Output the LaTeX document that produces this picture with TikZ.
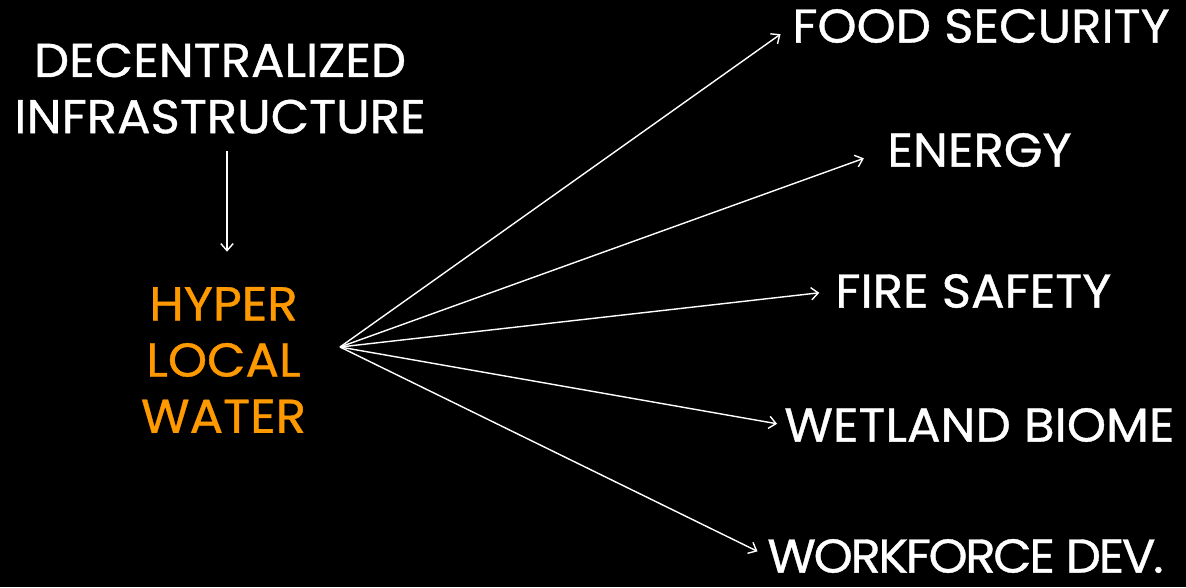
\documentclass[tikz,border=0pt]{standalone}
\usepackage{fontspec}
\setmainfont{Poppins}[FakeStretch=1.05, FakeBold=0.8]
\usepackage{tikz}
\usetikzlibrary{arrows.meta, calc}
\usepackage{xcolor}
\definecolor{waterorange}{RGB}{255,153,0}

\begin{document}
\begin{tikzpicture}[
  heading/.style={inner sep=0pt, text=white, align=center, font=\fontsize{27}{32}\selectfont},
  core/.style={inner sep=0pt, text=waterorange, align=center, font=\fontsize{27}{32}\selectfont},
  benefit/.style={inner sep=0pt, anchor=west, text=white, font=\fontsize{27}{32}\selectfont},
  arrow/.style={-{Straight Barb[length=4pt, width=7pt]}, line width=0.8pt, white},
]
\fill[black] (0,0) rectangle (23.72,-11.74);
\useasboundingbox (0,0) rectangle (23.72,-11.74);

\node[heading] (infra) at (4.4,-1.77) {DECENTRALIZED\\INFRASTRUCTURE};
\node[core] (water) at (4.47,-7.2) {HYPER\\LOCAL\\WATER};
\coordinate (hub) at (6.8,-6.94);

\node[benefit] (food) at (15.84,-0.52) {FOOD SECURITY};
\node[benefit] (energy) at (17.74,-3.0) {ENERGY};
\node[benefit] (fire) at (16.7,-5.82) {FIRE SAFETY};
\node[benefit] (wetland) at (15.68,-8.5) {WETLAND BIOME};
\node[benefit, font=\fontsize{27}{32}\selectfont\addfontfeature{LetterSpace=-5}] (work) at (15.34,-11.12) {WORKFORCE DEV.};

\draw[arrow, shorten <=10pt, shorten >=20pt] ([xshift=0.14cm]infra.south) -- ([xshift=0.14cm]infra.south |- water.north);

\draw[arrow, shorten >=8pt] (hub) -- (food.west);
\draw[arrow, shorten >=14pt] (hub) -- (energy.west);
\draw[arrow, shorten >=9pt] (hub) -- (fire.west);
\draw[arrow, shorten >=4pt] (hub) -- (wetland.west);
\draw[arrow, shorten >=6pt] (hub) -- (work.west);
\end{tikzpicture}
\end{document}
